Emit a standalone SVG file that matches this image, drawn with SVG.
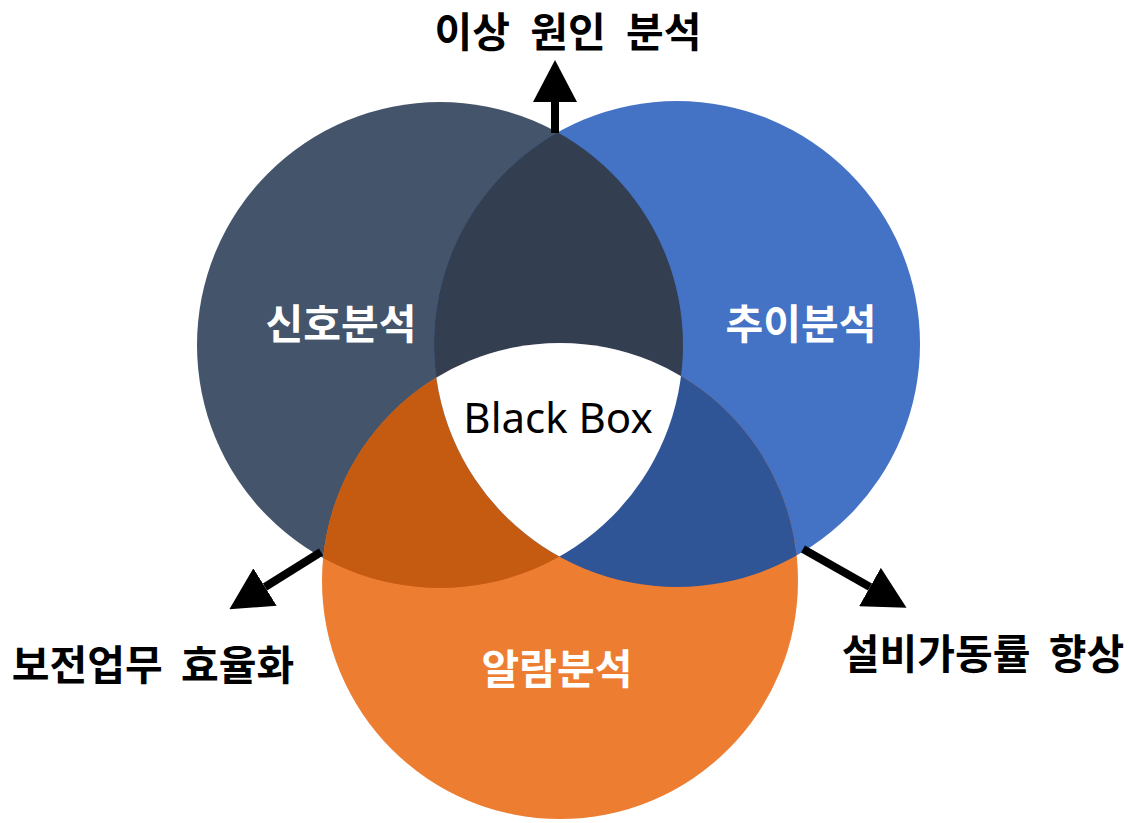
<svg xmlns="http://www.w3.org/2000/svg" width="1129" height="823" viewBox="0 0 1129 823">
  <style>
    .lbl { font-family: "Noto Sans CJK KR", "Noto Sans", sans-serif; font-weight: 700; text-anchor: middle; }
    .in { fill: #ffffff; font-size: 41px; }
    .out { fill: #000000; font-size: 41px; }
    .bb { font-family: "Noto Sans", "DejaVu Sans", sans-serif; font-size: 42px; fill: #000000; text-anchor: middle; }
    .conn { stroke: #000000; stroke-width: 8; fill: none; marker-end: url(#head); }
  </style>
  <defs>
    <clipPath id="clipL"><circle cx="440" cy="345" r="243"/></clipPath>
    <clipPath id="clipR"><circle cx="677" cy="344" r="243"/></clipPath>
    <marker id="head" markerUnits="userSpaceOnUse" markerWidth="42" markerHeight="44" refX="0" refY="22" orient="auto" viewBox="0 0 42 44">
      <path d="M0,0 L42,22 L0,44 Z" fill="#000000"/>
    </marker>
  </defs>
  <rect width="1129" height="823" fill="#ffffff"/>

  <g id="node-signal">
    <circle cx="440" cy="345" r="243" fill="#44546A"/>
  </g>
  <g id="node-trend">
    <circle cx="677" cy="344" r="243" fill="#4472C4"/>
  </g>
  <g id="node-alarm">
    <circle cx="560" cy="581" r="238" fill="#ED7D31"/>
  </g>

  <g id="overlap-signal-trend">
    <circle cx="677" cy="344" r="243" fill="#333F50" clip-path="url(#clipL)"/>
  </g>
  <g id="overlap-signal-alarm">
    <circle cx="560" cy="581" r="238" fill="#C55A11" clip-path="url(#clipL)"/>
  </g>
  <g id="overlap-trend-alarm">
    <circle cx="560" cy="581" r="238" fill="#2F5597" clip-path="url(#clipR)"/>
  </g>
  <g id="node-blackbox">
    <g clip-path="url(#clipL)">
      <circle cx="560" cy="581" r="238" fill="#ffffff" clip-path="url(#clipR)"/>
    </g>
    <text class="bb" x="558" y="433">Black Box</text>
  </g>

  <g id="labels-inner">
    <text class="lbl in" x="341" y="339">신호분석</text>
    <text class="lbl in" x="801" y="339">추이분석</text>
    <text class="lbl in" x="557" y="684">알람분석</text>
  </g>

  <g id="connectors">
    <line class="conn" x1="555" y1="133" x2="555" y2="102"/>
    <line class="conn" x1="321" y1="552" x2="265" y2="587"/>
    <line class="conn" x1="803" y1="549" x2="870" y2="587"/>
  </g>

  <g id="node-cause">
    <text class="lbl out" x="568" y="47" font-size="36" word-spacing="11">이상 원인 분석</text>
  </g>
  <g id="node-efficiency">
    <text class="lbl out" x="153" y="680" word-spacing="9">보전업무 효율화</text>
  </g>
  <g id="node-availability">
    <text class="lbl out" x="983" y="669" word-spacing="9">설비가동률 향상</text>
  </g>
</svg>
